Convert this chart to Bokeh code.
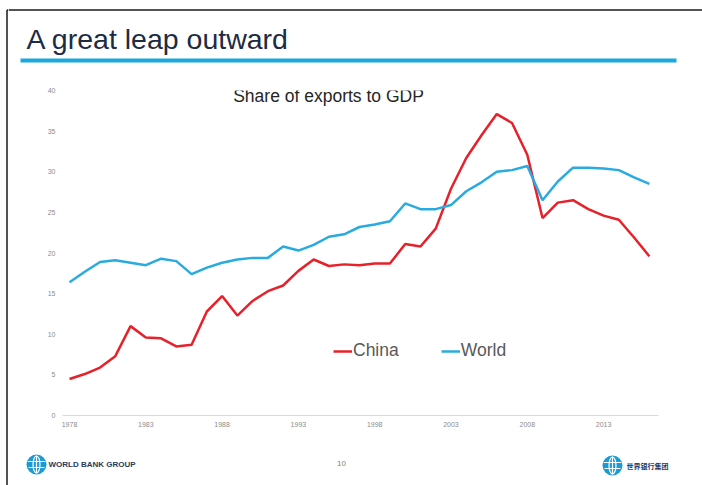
from bokeh.plotting import figure
from bokeh.models import Label, FixedTicker, Range1d, Legend, LegendItem
from bokeh.layouts import row, column
from bokeh.embed import file_html
from bokeh.resources import INLINE

years = list(range(1978, 2017))
china = [4.5, 5.1, 5.9, 7.3, 11.0, 9.6, 9.5, 8.5, 8.7, 12.8, 14.7, 12.3, 14.1, 15.3,
         16.0, 17.8, 19.2, 18.4, 18.6, 18.5, 18.7, 18.7, 21.1, 20.8, 23.0, 27.9, 31.7,
         34.5, 37.1, 36.0, 32.1, 24.3, 26.2, 26.5, 25.4, 24.6, 24.1, 21.9, 19.6]
world = [16.4, 17.7, 18.9, 19.1, 18.8, 18.5, 19.3, 19.0, 17.4, 18.2, 18.8, 19.2, 19.4, 19.4,
         20.8, 20.3, 21.0, 22.0, 22.3, 23.2, 23.5, 23.9, 26.1, 25.4, 25.4, 25.9, 27.6,
         28.7, 30.0, 30.2, 30.7, 26.5, 28.8, 30.5, 30.5, 30.4, 30.2, 29.3, 28.5]
x_ticks = [1978, 1983, 1988, 1993, 1998, 2003, 2008, 2013]
y_ticks = [0, 5, 10, 15, 20, 25, 30, 35, 40]

W, H = 702, 485
SW = 8            # left strip (slide border)
HH = 80           # header height
FH = 45           # footer height
CH = H - HH - FH  # chart height
FL, FR, FT, FB = 62, 658, 90, 415   # chart frame in page pixels

BORDER = "#1a1a1a"
BLUE_LINE = "#1ba9dd"
FONT = "Liberation Sans"


def blank(width, height, x0, x1, y0, y1):
    f = figure(width=width, height=height, x_range=Range1d(x0, x1), y_range=Range1d(y1, y0),
               output_backend="svg", toolbar_location=None, min_border=0,
               x_axis_type=None, y_axis_type=None)
    f.outline_line_color = None
    f.grid.visible = False
    f.background_fill_color = "white"
    f.border_fill_color = "white"
    f.frame_align = False
    return f


def label(f, x, y, text, size, color, font=FONT, style="normal", align="left"):
    f.add_layout(Label(x=x, y=y, text=text, text_font=font, text_font_size=size,
                       text_color=color, text_font_style=style, text_align=align,
                       text_baseline="middle"))


# --- left strip with slide border
strip = blank(SW, H, 0, SW, 0, H)
strip.segment(x0=[6.5, 6.5], y0=[9.5, 9.5], x1=[6.5, SW], y1=[H, 9.5], line_color=BORDER, line_width=1.5)

# --- header
head = blank(W - SW, HH, SW, W, 0, HH)
head.segment(x0=[SW], y0=[9.5], x1=[W], y1=[9.5], line_color=BORDER, line_width=1.5)
label(head, 26, 38, "A great leap outward", "28.5px", "#1d2b44")
head.quad(left=[20], right=[676], top=[58], bottom=[62], fill_color=BLUE_LINE, line_color=None)

# --- chart
p = figure(width=W - SW, height=CH, x_range=Range1d(1977.54, 2016.6), y_range=Range1d(0, 40),
           output_backend="svg", toolbar_location=None,
           min_border_left=FL - SW, min_border_right=W - FR, min_border_top=FT - HH,
           min_border_bottom=(HH + CH) - FB)
p.frame_align = False
p.outline_line_color = None
p.grid.grid_line_color = None
p.background_fill_color = "white"
p.border_fill_color = "white"
p.xaxis.ticker = FixedTicker(ticks=x_ticks)
p.yaxis.ticker = FixedTicker(ticks=y_ticks)
for ax in (p.xaxis, p.yaxis):
    ax.major_label_text_font = FONT
    ax.major_label_text_font_size = "7px"
    ax.major_label_text_color = "#8c8c8c"
    ax.major_tick_line_color = None
    ax.minor_tick_line_color = None
    ax.major_tick_out = 0
    ax.major_tick_in = 0
    ax.minor_tick_out = 0
    ax.minor_tick_in = 0
p.xaxis.axis_line_color = "#d9d9d9"
p.xaxis.major_label_standoff = 6
p.yaxis.axis_line_color = None
p.yaxis.major_label_standoff = 7

r_china = p.line(years, china, line_color="#e8202a", line_width=2.5)
r_world = p.line(years, world, line_color="#29abe0", line_width=2.5)

legend = Legend(items=[LegendItem(label="China", renderers=[r_china]),
                       LegendItem(label="World", renderers=[r_world])],
                orientation="horizontal", location=(333 - FL, 54))
legend.glyph_width = 19
legend.label_standoff = 1
legend.spacing = 42
legend.padding = 0
legend.margin = 0
legend.border_line_color = None
legend.background_fill_alpha = 0
legend.label_text_font = FONT
legend.label_text_font_size = "17.5px"
legend.label_text_color = "#595959"
p.add_layout(legend, "center")

p.add_layout(Label(x=328 - FL, y=FB - 95, x_units="screen", y_units="screen",
                   text="Share of exports to GDP", text_font=FONT, text_font_size="17.5px",
                   text_color="#262626", text_align="center", text_baseline="middle"))

# --- footer
foot = blank(W - SW, FH, SW, W, HH + CH, H)
label(foot, 341, 463, "10", "8px", "#7f7f7f", align="center")
label(foot, 48, 464, "WORLD BANK GROUP", "8px", "#2b3a5c", style="bold")
label(foot, 626, 465, "世界银行集团", "7px", "#2b3a5c", font="Noto Sans CJK SC", style="bold")
for cx, cy in [(36, 464), (612, 465)]:
    foot.scatter([cx], [cy], size=20, fill_color="#1c9ad6", line_color=None)
    foot.ellipse([cx], [cy], width=7, height=17, fill_color=None, line_color="white", line_width=1.2)
    foot.segment(x0=[cx - 9, cx - 8], y0=[cy - 3, cy + 3], x1=[cx + 9, cx + 8], y1=[cy - 3, cy + 3],
                 line_color="white", line_width=1.2)
    foot.segment(x0=[cx], y0=[cy - 9], x1=[cx], y1=[cy + 9], line_color="white", line_width=1.2)

layout = row(strip, column(head, p, foot, spacing=0), spacing=0)
open("out.html", "w").write(file_html(layout, INLINE))
